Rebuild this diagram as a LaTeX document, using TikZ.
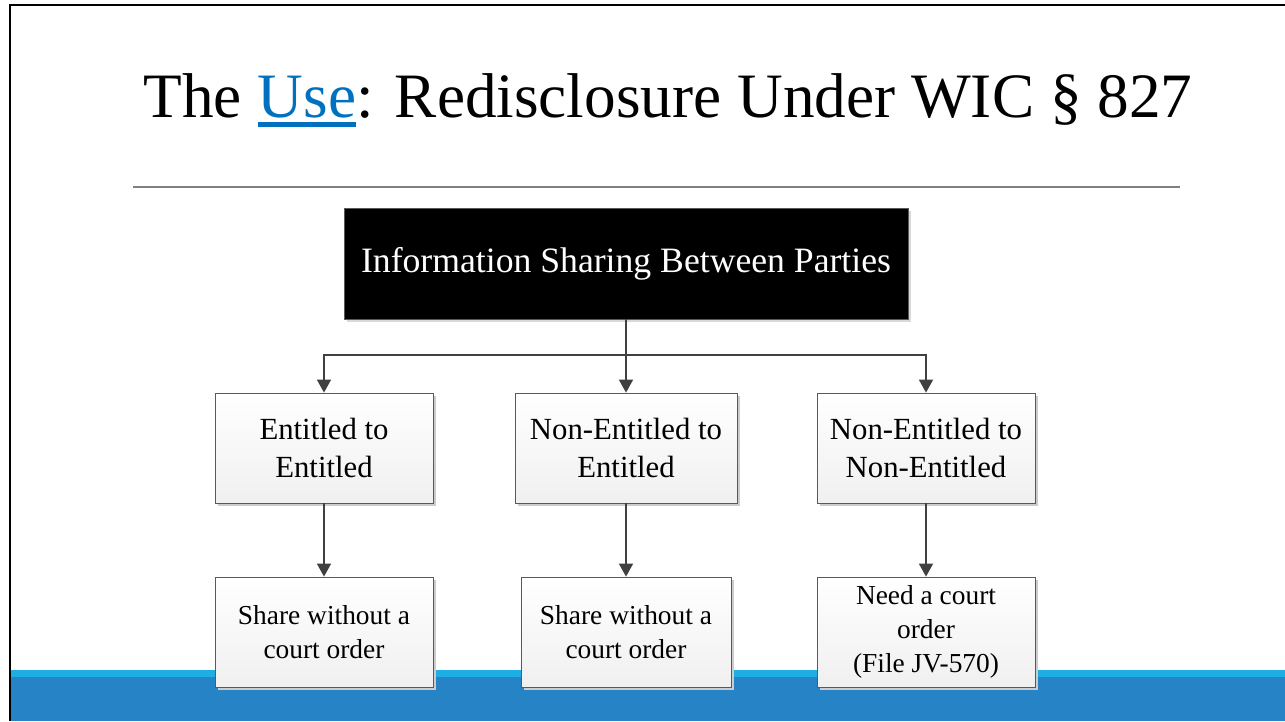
\documentclass[tikz,border=0pt]{standalone}
\usepackage{fontspec}
\setmainfont{Liberation Serif}
\usepackage{tikz}
\usetikzlibrary{arrows.meta, shadows}

\definecolor{usblue}{HTML}{0070C0}
\definecolor{barlight}{HTML}{1FAEE3}
\definecolor{bardark}{HTML}{2683C6}
\definecolor{boxline}{HTML}{595959}
\definecolor{connline}{HTML}{404040}

% heavier underline for the title link
\newcommand{\thickul}[1]{\setbox0\hbox{#1}\rlap{\rule[-0.15em]{\wd0}{0.07em}}\box0}

\tikzset{
  headbox/.style={fill=black, draw=boxline, text=white, minimum width=11.28cm,
    minimum height=2.22cm, font=\fontsize{20.3}{24}\selectfont,
    drop shadow={shadow xshift=0.06cm, shadow yshift=-0.06cm, fill=gray!30, opacity=1}},
  casebox/.style={draw=boxline, line width=0.5pt, top color=white, bottom color=gray!12,
    minimum height=2.2cm, align=center, inner sep=0pt,
    drop shadow={shadow xshift=0.06cm, shadow yshift=-0.06cm, fill=gray!40, opacity=1}},
  midbox/.style={casebox, font=\fontsize{17.5}{21.5}\selectfont},
  lowbox/.style={casebox, font=\fontsize{15.6}{19.3}\selectfont},
  conn/.style={connline, line width=1pt, -{Triangle[length=0.26cm, width=0.28cm]}},
}

\begin{document}
\begin{tikzpicture}[x=0.02cm, y=-0.02cm]
      % Page and footer bar:
      \fill[white] (0,0) rectangle (1285,721);
      \useasboundingbox (0,0) rectangle (1285,721);
      \fill[barlight] (10,670) rectangle (1285,677);
      \fill[bardark] (10,677) rectangle (1285,721);
      \draw[line width=1.2pt] (10,721) -- (10,5) -- (1285,5);

      % Title:
      \node (title) at (668,100) {\fontsize{36}{40}\selectfont The
        \textcolor{usblue}{\thickul{Use}}: Redisclosure Under WIC \S{} 827};
      \draw[gray, line width=0.6pt] (133,187) -- (1180,187);

      % Boxes:
      \node[headbox] (info) at (626,263.5) {Information Sharing Between Parties};
      \node[midbox, minimum width=4.36cm] (e2e) at (324,448) {Entitled to\\Entitled};
      \node[midbox, minimum width=4.44cm] (n2e) at (626,448) {Non-Entitled to\\Entitled};
      \node[midbox, minimum width=4.36cm] (n2n) at (926,448) {Non-Entitled to\\Non-Entitled};
      \node[lowbox, minimum width=4.36cm] (share1) at (324,632) {Share without a\\court order};
      \node[lowbox, minimum width=4.2cm] (share2) at (626,632) {Share without a\\court order};
      \node[lowbox, minimum width=4.36cm] (need) at (926,632) {Need a court\\order\\(File JV-570)};

      % Connectors:
      \coordinate (fork) at (626,355);
      \draw[connline, line width=1pt] (info.south) -- (fork);
      \draw[conn] (fork) -| (e2e.north);
      \draw[conn] (fork) -- (n2e.north);
      \draw[conn] (fork) -| (n2n.north);
      \draw[conn] (e2e) -- (share1);
      \draw[conn] (n2e) -- (share2);
      \draw[conn] (n2n) -- (need);
    \end{tikzpicture}
\end{document}
